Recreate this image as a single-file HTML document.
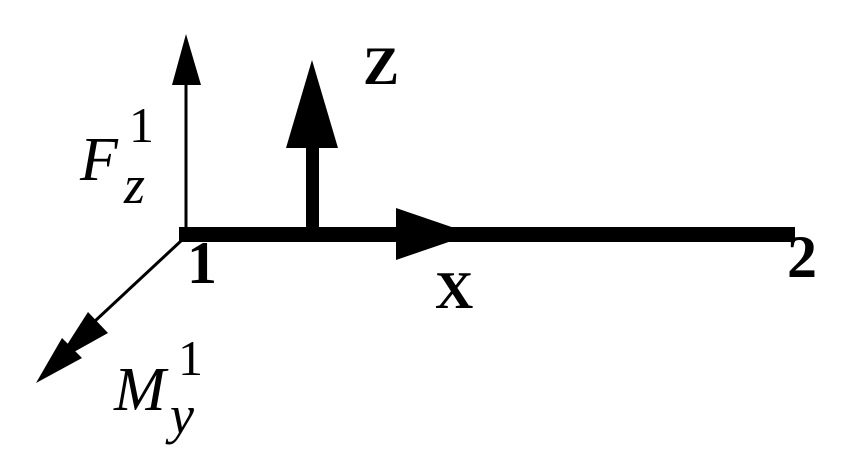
<!DOCTYPE html>
<html><head><style>html,body{margin:0;padding:0;background:#fff}</style></head>
<body>
<svg width="855" height="475" xmlns="http://www.w3.org/2000/svg" style="display:block">
<rect width="855" height="475" fill="#fff"/>
<line x1="186" y1="80" x2="186" y2="236" stroke="#000" stroke-width="3"/>
<polygon points="186,34 172,85 201,85" fill="#000"/>
<rect x="306" y="140" width="13" height="95" fill="#000"/>
<polygon points="312,60 286,148 338,148" fill="#000"/>
<rect x="179" y="227" width="616" height="15" fill="#000"/>
<polygon points="396,208 472,234 396,260" fill="#000"/>
<line x1="182" y1="240" x2="80" y2="335" stroke="#000" stroke-width="3"/>
<polygon points="56,362 88,312 108,333" fill="#000"/>
<polygon points="36,383 62,338 82,358" fill="#000"/>
<g font-family="Liberation Serif, serif" fill="#000">
<text x="363" y="84" font-size="54" font-weight="bold">Z</text>
<text x="187" y="283" font-size="60" font-weight="bold">1</text>
<text x="435" y="308" font-size="53" font-weight="bold">X</text>
<text x="787" y="277" font-size="60" font-weight="bold">2</text>
<text x="80" y="180" font-size="62" font-style="italic">F</text>
<text x="129" y="142" font-size="50">1</text>
<text x="124" y="203" font-size="54" font-style="italic">z</text>
<text x="114" y="410" font-size="62" font-style="italic">M</text>
<text x="178" y="375" font-size="50">1</text>
<text x="170" y="433" font-size="54" font-style="italic">y</text>
</g>
</svg>
</body></html>
